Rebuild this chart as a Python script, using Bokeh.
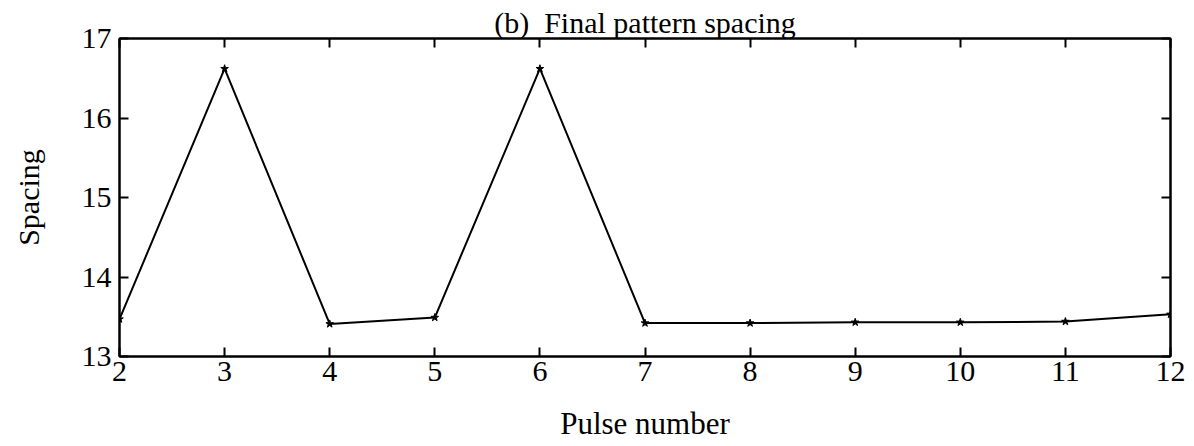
from bokeh.plotting import figure
from bokeh.models import Range1d, LinearAxis, FixedTicker
from bokeh.embed import file_html
from bokeh.resources import INLINE

# Final pattern spacing per pulse
pulse_number = [2, 3, 4, 5, 6, 7, 8, 9, 10, 11, 12]
spacing = [13.47, 16.62, 13.41, 13.49, 16.62, 13.42, 13.42, 13.43, 13.43, 13.44, 13.53]

x_ticks = [2, 3, 4, 5, 6, 7, 8, 9, 10, 11, 12]
y_ticks = [13, 14, 15, 16, 17]

FONT = "Liberation Serif"

p = figure(width=1194, height=446, output_backend="svg", toolbar_location=None,
           x_range=Range1d(2, 12), y_range=Range1d(13, 17),
           min_border_left=119, min_border_right=24, min_border_top=38,
           min_border_bottom=90)
p.background_fill_color = "white"
p.border_fill_color = "white"
p.outline_line_color = "black"
p.outline_line_width = 2
p.xgrid.visible = False
p.ygrid.visible = False

p.title.text = "(b)\u00a0\u00a0Final pattern spacing"
p.title.align = "center"
p.title.text_font = FONT
p.title.text_font_size = "30px"
p.title.text_font_style = "normal"
p.title.text_color = "black"
p.title.standoff = 0
p.title.offset = 0

def style_axis(ax, ticks, show_labels):
    ax.ticker = FixedTicker(ticks=ticks)
    ax.axis_line_color = "black"
    ax.axis_line_width = 2
    ax.major_tick_in = 9
    ax.major_tick_out = 0
    ax.major_tick_line_width = 2
    ax.minor_tick_line_color = None
    ax.major_label_text_font = FONT
    ax.major_label_text_font_size = "30px"
    ax.major_label_text_color = "black"
    if not show_labels:
        ax.major_label_overrides = {t: "" for t in ticks}
        ax.major_label_text_font_size = "1px"
        ax.major_label_standoff = 0

xa = p.xaxis[0]
style_axis(xa, x_ticks, True)
xa.major_label_standoff = 5
xa.axis_label = "Pulse number"
xa.axis_label_text_font = FONT
xa.axis_label_text_font_size = "31px"
xa.axis_label_text_font_style = "normal"
xa.axis_label_text_color = "black"
xa.axis_label_standoff = 22

ya = p.yaxis[0]
style_axis(ya, y_ticks, True)
ya.major_label_standoff = 8
ya.axis_label = "Spacing"
ya.axis_label_text_font = FONT
ya.axis_label_text_font_size = "30px"
ya.axis_label_text_font_style = "normal"
ya.axis_label_text_color = "black"
ya.axis_label_standoff = 34

top_axis = LinearAxis()
style_axis(top_axis, x_ticks, False)
p.add_layout(top_axis, "above")

right_axis = LinearAxis()
style_axis(right_axis, y_ticks, False)
p.add_layout(right_axis, "right")

p.line(pulse_number, spacing, line_color="black", line_width=2)
p.scatter(pulse_number, spacing, marker="star", size=8, fill_color="black",
          line_color="black")

open("out.html", "w").write(file_html(p, INLINE))
